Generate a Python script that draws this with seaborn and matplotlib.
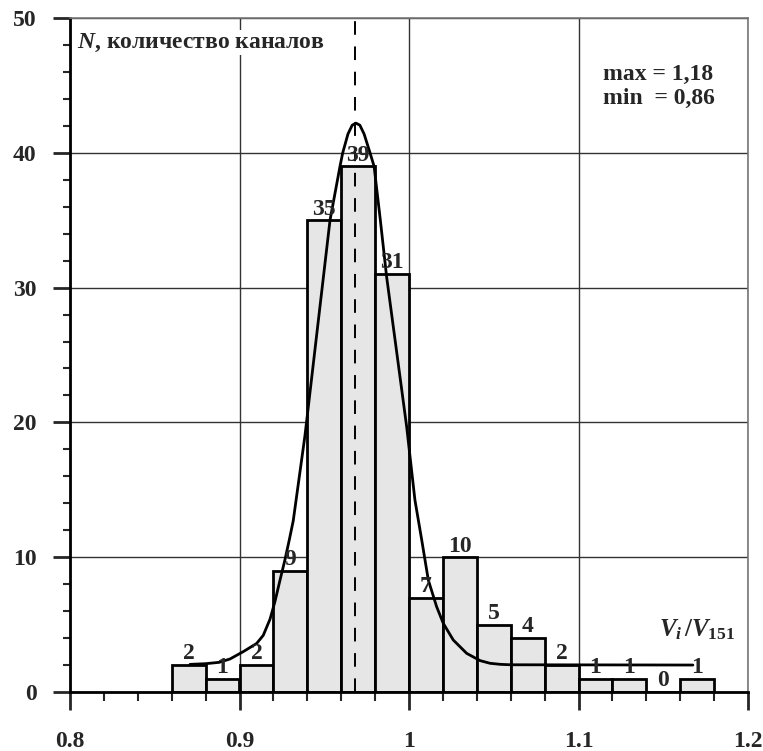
import matplotlib
matplotlib.use("Agg")
import matplotlib.pyplot as plt
import seaborn as sns
import numpy as np
from matplotlib.ticker import MultipleLocator

# ---- data ----
bin_edges = [0.86, 0.88, 0.90, 0.92, 0.94, 0.96, 0.98, 1.00, 1.02, 1.04,
             1.06, 1.08, 1.10, 1.12, 1.14, 1.16, 1.18]
counts = [2, 1, 2, 9, 35, 39, 31, 7, 10, 5, 4, 2, 1, 1, 0, 1]
curve_x = [0.8708, 0.880, 0.888, 0.8944, 0.9023, 0.9101, 0.914, 0.918, 0.9209,
           0.9239, 0.9268, 0.9294, 0.9317, 0.9386, 0.9534, 0.9593, 0.9609, 0.9640,
           0.9665, 0.9687, 0.9710, 0.9735, 0.977, 0.9794, 0.9831, 0.9868, 0.9986,
           1.0035, 1.0075, 1.0114, 1.0163, 1.0202, 1.0261, 1.034, 1.0419, 1.0478,
           1.0540, 1.060, 1.1675]
curve_y = [2.05, 2.1, 2.2, 2.45, 3.0, 3.6, 4.2, 5.4, 6.7,
           8.3, 9.8, 11.3, 12.7, 19.0, 35.0, 39.0, 40.0, 41.4,
           42.05, 42.2, 42.05, 41.4, 40.0, 39.0, 35.0, 30.8, 19.7,
           14.24, 11.28, 8.3, 6.33, 5.1, 3.86, 2.87, 2.33, 2.13,
           2.05, 2.02, 2.0]
mean_value = 0.968
x_ticks = [0.8, 0.9, 1.0, 1.1, 1.2]
x_tick_labels = ["0.8", "0.9", "1", "1.1", "1.2"]
y_ticks = [0, 10, 20, 30, 40, 50]
y_label_text = "количество каналов"
stats_text = "max = 1,18\nmin  = 0,86"

# ---- style ----
sns.set_style("white")
plt.rcParams["font.family"] = ["Liberation Serif", "DejaVu Serif"]
plt.rcParams["font.weight"] = "bold"
plt.rcParams["mathtext.fontset"] = "custom"
plt.rcParams["mathtext.it"] = "Liberation Serif:italic:bold"
plt.rcParams["mathtext.rm"] = "Liberation Serif:bold"
plt.rcParams["mathtext.bf"] = "Liberation Serif:bold"

FS = 17

fig = plt.figure(figsize=(7.63, 7.51), dpi=100)
ax = fig.add_axes([70 / 763, 59 / 751, 678 / 763, 674 / 751])

centers = [(bin_edges[i] + bin_edges[i + 1]) / 2 for i in range(len(counts))]
sns.histplot(x=centers, weights=counts, bins=bin_edges, ax=ax,
             color="#e6e6e6", edgecolor="black", linewidth=2, alpha=1, zorder=2)

sns.lineplot(x=curve_x, y=curve_y, sort=False, estimator=None, ax=ax,
             color="black", linewidth=2, zorder=4)

ax.axvline(mean_value, color="black", linewidth=1.4, dashes=(7, 6), zorder=5)

# count labels
for c, n in zip(centers, counts):
    ax.text(c, n + 0.05, str(n), ha="center", va="bottom", fontsize=FS,
            fontweight="bold", zorder=6)

ax.set_xlim(0.8, 1.2)
ax.set_ylim(0, 50)
ax.set_xticks(x_ticks)
ax.set_xticklabels(x_tick_labels)
ax.set_yticks(y_ticks)
ax.xaxis.set_minor_locator(MultipleLocator(0.02))
ax.yaxis.set_minor_locator(MultipleLocator(2))
ax.tick_params(axis="both", which="both", bottom=True, left=True, top=False, right=False)
ax.tick_params(axis="x", which="major", direction="out", length=13, width=2,
               pad=15, labelsize=FS)
ax.tick_params(axis="x", which="minor", direction="out", length=6.5, width=1.5)
ax.tick_params(axis="y", which="major", direction="out", length=12, width=2,
               pad=12, labelsize=FS)
ax.tick_params(axis="y", which="minor", direction="out", length=5, width=1.5)
for lab in ax.get_xticklabels() + ax.get_yticklabels():
    lab.set_fontweight("bold")

ax.set_axisbelow(True)
ax.grid(True, which="major", color="#333333", linewidth=1)
ax.set_xlabel("")
ax.set_ylabel("")

for side in ["left", "bottom"]:
    ax.spines[side].set_linewidth(2)
    ax.spines[side].set_color("black")
for side in ["top", "right"]:
    ax.spines[side].set_linewidth(1.2)
    ax.spines[side].set_color("#777777")
    ax.spines[side].set_visible(True)

ax.text(0.8041, 48.15, r"$N$, " + y_label_text, fontsize=FS, fontweight="bold",
        ha="left", va="center", zorder=7,
        bbox=dict(facecolor="white", edgecolor="none", pad=1))
ax.text(1.1145, 44.9, stats_text, fontsize=FS, fontweight="bold",
        ha="left", va="center", linespacing=1.2, zorder=7)
ax.text(1.1923, 4.6, r"$V_i\,/V_{\mathrm{151}}$", fontsize=FS + 1, ha="right",
        va="center", zorder=7)

fig.savefig("out.png", dpi=100)
